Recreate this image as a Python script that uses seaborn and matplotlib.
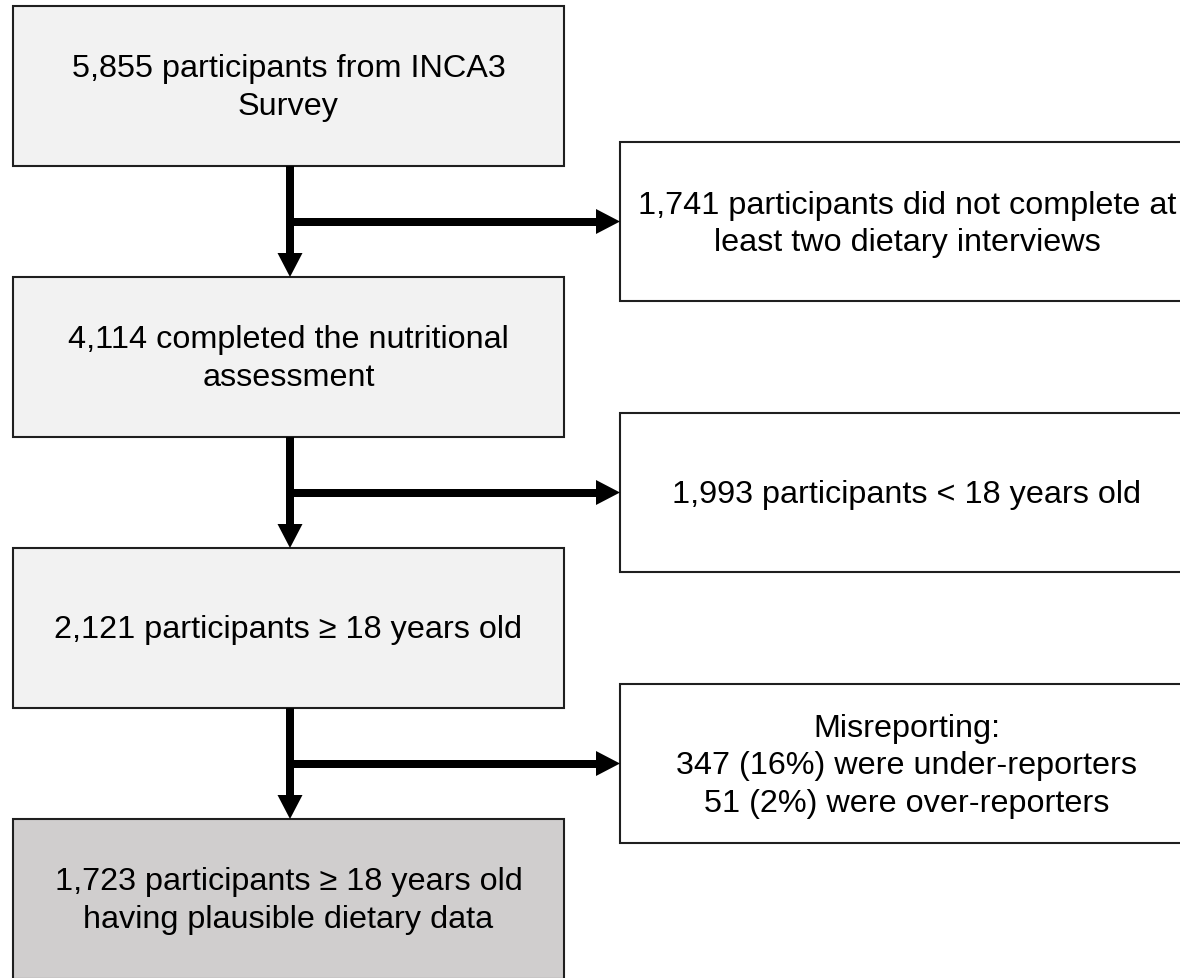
import matplotlib
matplotlib.use("Agg")
import matplotlib.pyplot as plt
from matplotlib.patches import Rectangle, Polygon
import seaborn as sns

# ---- data (flow counts and labels) ----
main_counts = [5855, 4114, 2121, 1723]
excluded_counts = [1741, 1993, 398]
main_labels = [
    "5,855 participants from INCA3\nSurvey",
    "4,114 completed the nutritional\nassessment",
    "2,121 participants \u2265 18 years old",
    "1,723 participants \u2265 18 years old\nhaving plausible dietary data",
]
excluded_labels = [
    "1,741 participants did not complete at\nleast two dietary interviews",
    "1,993 participants < 18 years old",
    "Misreporting:\n347 (16%) were under-reporters\n51 (2%) were over-reporters",
]
main_fills = ["#f2f2f2", "#f2f2f2", "#f2f2f2", "#d0cece"]
excluded_fill = "#ffffff"

sns.set_theme(style="white")
plt.rcParams["font.family"] = ["Liberation Sans", "DejaVu Sans"]

W, H = 1180, 979
fig = plt.figure(figsize=(W / 100, H / 100), dpi=100)
ax = fig.add_axes([0, 0, 1, 1])
ax.set_xlim(0, W)
ax.set_ylim(H, 0)
ax.axis("off")

# layout (pixels)
L_X0, L_X1 = 13, 564
L_TOPS = [7, 278, 549, 820]
L_H = 160
R_X0, R_X1 = 620, 1194
R_TOPS = [143, 414, 685]
R_H = 159
ARROW_X = 290
SHAFT_LW = 8 * 72 / 100
HEAD_W, HEAD_L = 25, 24
FS = 23.3
EDGE = "#1f1f1f"

for top, lab, fc in zip(L_TOPS, main_labels, main_fills):
    ax.add_patch(Rectangle((L_X0, top), L_X1 - L_X0, L_H, facecolor=fc,
                           edgecolor=EDGE, lw=1.5, zorder=2))
    ax.text((L_X0 + L_X1) / 2, top + L_H / 2 + 1, lab, ha="center", va="center",
            fontsize=FS, color="black", linespacing=1.36, zorder=3)

for top, lab in zip(R_TOPS, excluded_labels):
    ax.add_patch(Rectangle((R_X0, top), R_X1 - R_X0, R_H, facecolor=excluded_fill,
                           edgecolor=EDGE, lw=1.5, zorder=2, clip_on=False))
    ax.text((R_X0 + R_X1) / 2, top + R_H / 2 + 2, lab, ha="center", va="center",
            fontsize=FS, color="black", linespacing=1.33, zorder=3)

# arrows
for i in range(3):
    y0 = L_TOPS[i] + L_H
    y1 = L_TOPS[i + 1]
    ym = R_TOPS[i] + R_H / 2
    # vertical shaft
    ax.plot([ARROW_X, ARROW_X], [y0, y1 - HEAD_L + 1], color="black",
            lw=SHAFT_LW, solid_capstyle="butt", zorder=4)
    ax.add_patch(Polygon([(ARROW_X - HEAD_W / 2, y1 - HEAD_L), (ARROW_X + HEAD_W / 2, y1 - HEAD_L),
                          (ARROW_X, y1)], closed=True, facecolor="black", edgecolor="none", zorder=4))
    # horizontal shaft
    ax.plot([ARROW_X - 4, R_X0 - HEAD_L + 1], [ym, ym], color="black",
            lw=SHAFT_LW, solid_capstyle="butt", zorder=4)
    ax.add_patch(Polygon([(R_X0 - HEAD_L, ym - HEAD_W / 2), (R_X0 - HEAD_L, ym + HEAD_W / 2),
                          (R_X0, ym)], closed=True, facecolor="black", edgecolor="none", zorder=4))

fig.savefig("out.png", dpi=100, facecolor="white")
